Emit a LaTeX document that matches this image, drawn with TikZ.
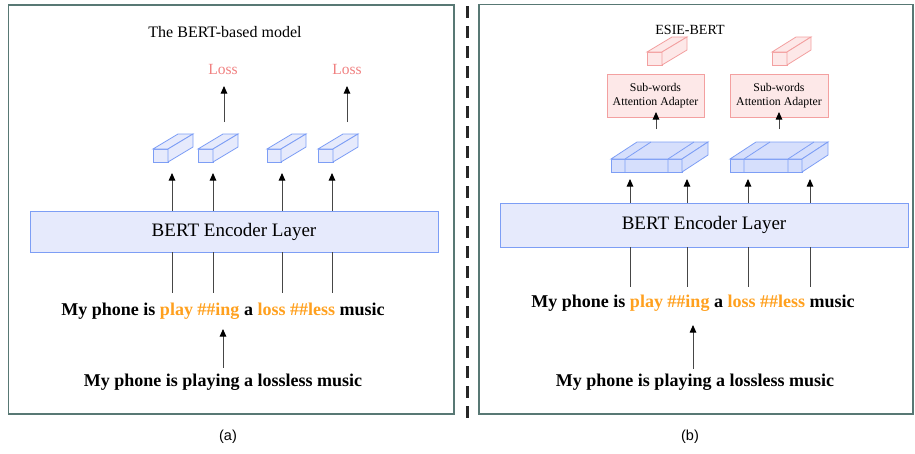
\documentclass[tikz,border=0pt]{standalone}
\usepackage{fontspec}
\setmainfont{Liberation Serif}
\newfontfamily\capfont{Liberation Sans}
\usetikzlibrary{arrows.meta}
\definecolor{framec}{RGB}{88,120,116}
\definecolor{linec}{RGB}{70,70,70}
\definecolor{bluefill}{RGB}{230,234,252}
\definecolor{bluedraw}{RGB}{125,158,245}
\definecolor{cubefill}{RGB}{214,223,252}
\definecolor{redfill}{RGB}{253,232,232}
\definecolor{reddraw}{RGB}{243,160,160}
\definecolor{losscol}{RGB}{240,128,128}
\definecolor{orangec}{RGB}{255,160,30}
% cube: x1,y1 (front top-left), x2,y2 (front bottom-right), dx, dy
\newcommand\mycube[7]{%
  \filldraw[#7] (#1,#2) rectangle (#3,#4);
  \filldraw[#7] (#1,#2) -- ({#1+#5},{#2-#6}) -- ({#3+#5},{#2-#6}) -- (#3,#2) -- cycle;
  \filldraw[#7] (#3,#2) -- ({#3+#5},{#2-#6}) -- ({#3+#5},{#4-#6}) -- (#3,#4) -- cycle;
}
\newcommand\widecube[9]{%
  \mycube{#1}{#2}{#3}{#4}{#5}{#6}{#7}
  \draw[#7] (#8,#2) -- (#8,#4) (#8,#2) -- ({#8+#5},{#2-#6});
  \draw[#7] (#9,#2) -- (#9,#4) (#9,#2) -- ({#9+#5},{#2-#6});
}
\begin{document}
\begin{tikzpicture}[x=1pt,y=-1pt,
  framebox/.style={draw=framec,line width=1.3pt},
  enc/.style={draw=bluedraw,fill=bluefill,line width=0.9pt,font=\fontsize{19}{21}\selectfont},
  adapter/.style={draw=reddraw,fill=redfill,line width=0.9pt,align=center,font=\fontsize{11.8}{13.5}\selectfont,inner sep=0pt},
  bcube/.style={draw=bluedraw,fill=bluefill,line width=0.8pt},
  wcube/.style={draw=bluedraw,fill=cubefill,line width=0.8pt},
  rcube/.style={draw=reddraw,fill=redfill,line width=0.8pt},
  arr/.style={draw=linec,line width=0.9pt,-{Triangle[width=6.5pt,length=7.5pt,color=black]}},
  plain/.style={draw=linec,line width=0.9pt},
  sent/.style={font=\bfseries\fontsize{18}{20}\selectfont,inner sep=0pt},
  losst/.style={text=losscol,font=\fontsize{15.5}{17}\selectfont,inner sep=0pt},
  titlet/.style={font=\fontsize{16}{18}\selectfont,inner sep=0pt},
  capt/.style={font=\capfont\fontsize{14.5}{16}\selectfont,inner sep=0pt}
]
\useasboundingbox (0,0) rectangle (915,453);
% frames
\draw[framebox] (8.5,5) rectangle (454,414);
\draw[framebox] (479,4.5) rectangle (913,414);
\draw[line width=3pt,black!85,dash pattern=on 12pt off 8pt] (467,6) -- (467,418);

% ---------- left panel ----------
\node[titlet] (ltitle) at (225,32) {The BERT-based model};
\node[losst] (loss1) at (223,69) {Loss};
\node[losst] (loss2) at (347,69) {Loss};
\coordinate (lc2top) at (224,122);
\coordinate (lc4top) at (347,122);
\draw[arr] (lc2top) -- (224,86);
\draw[arr] (lc4top) -- (347,86);
\mycube{153}{149}{168}{162}{25}{15}{bcube}
\mycube{198}{149}{213}{162}{25}{15}{bcube}
\mycube{267}{149}{281}{162}{25}{15}{bcube}
\mycube{318}{149}{333}{162}{25}{15}{bcube}
\node[enc,minimum width=408pt,minimum height=41pt] (lenc) at (234,231.5) {BERT Encoder Layer};
\foreach \x in {172,213,282,332}{
  \draw[arr] (lenc.north -| \x,0) -- (\x,173);
  \draw[plain] (lenc.south -| \x,0) -- (\x,293);
}
\node[sent] (ltok) at (223,311) {My phone is {\color{orangec}play \#\#ing} a {\color{orangec}loss \#\#less} music};
\node[sent] (lsen) at (223,382) {My phone is playing a lossless music};
\draw[arr] (lsen.north) ++(0,-6) -- (223,329);
\node[capt] (capa) at (228,437) {(a)};

% ---------- right panel ----------
\node[titlet,font=\fontsize{14}{16}\selectfont] (rtitle) at (690,30) {ESIE-BERT};
\mycube{647}{52}{662}{65}{25}{15}{rcube}
\mycube{772}{52}{787}{65}{24}{15}{rcube}
\node[adapter,minimum width=97pt,minimum height=43pt] (ad1) at (655.5,95.5) {Sub-words\\Attention Adapter};
\node[adapter,minimum width=98pt,minimum height=43pt] (ad2) at (779,95.5) {Sub-words\\Attention Adapter};
\widecube{611}{159}{682}{172}{26}{17}{wcube}{625}{668}
\widecube{730}{159}{802}{172}{26}{17}{wcube}{744}{788}
\draw[arr] (656,129) -- (656,112);
\draw[arr] (779,129) -- (779,112);
\node[enc,minimum width=408pt,minimum height=44pt] (renc) at (704,225) {BERT Encoder Layer};
\foreach \x in {630,687,748,810}{
  \draw[arr] (renc.north -| \x,0) -- (\x,179);
  \draw[plain] (renc.south -| \x,0) -- (\x,287);
}
\node[sent] (rtok) at (693,303) {My phone is {\color{orangec}play \#\#ing} a {\color{orangec}loss \#\#less} music};
\node[sent] (rsen) at (695,382) {My phone is playing a lossless music};
\draw[arr] (rsen.north) ++(-2,-5) -- (693,325);
\node[capt] (capb) at (690,437) {(b)};
\end{tikzpicture}
\end{document}
